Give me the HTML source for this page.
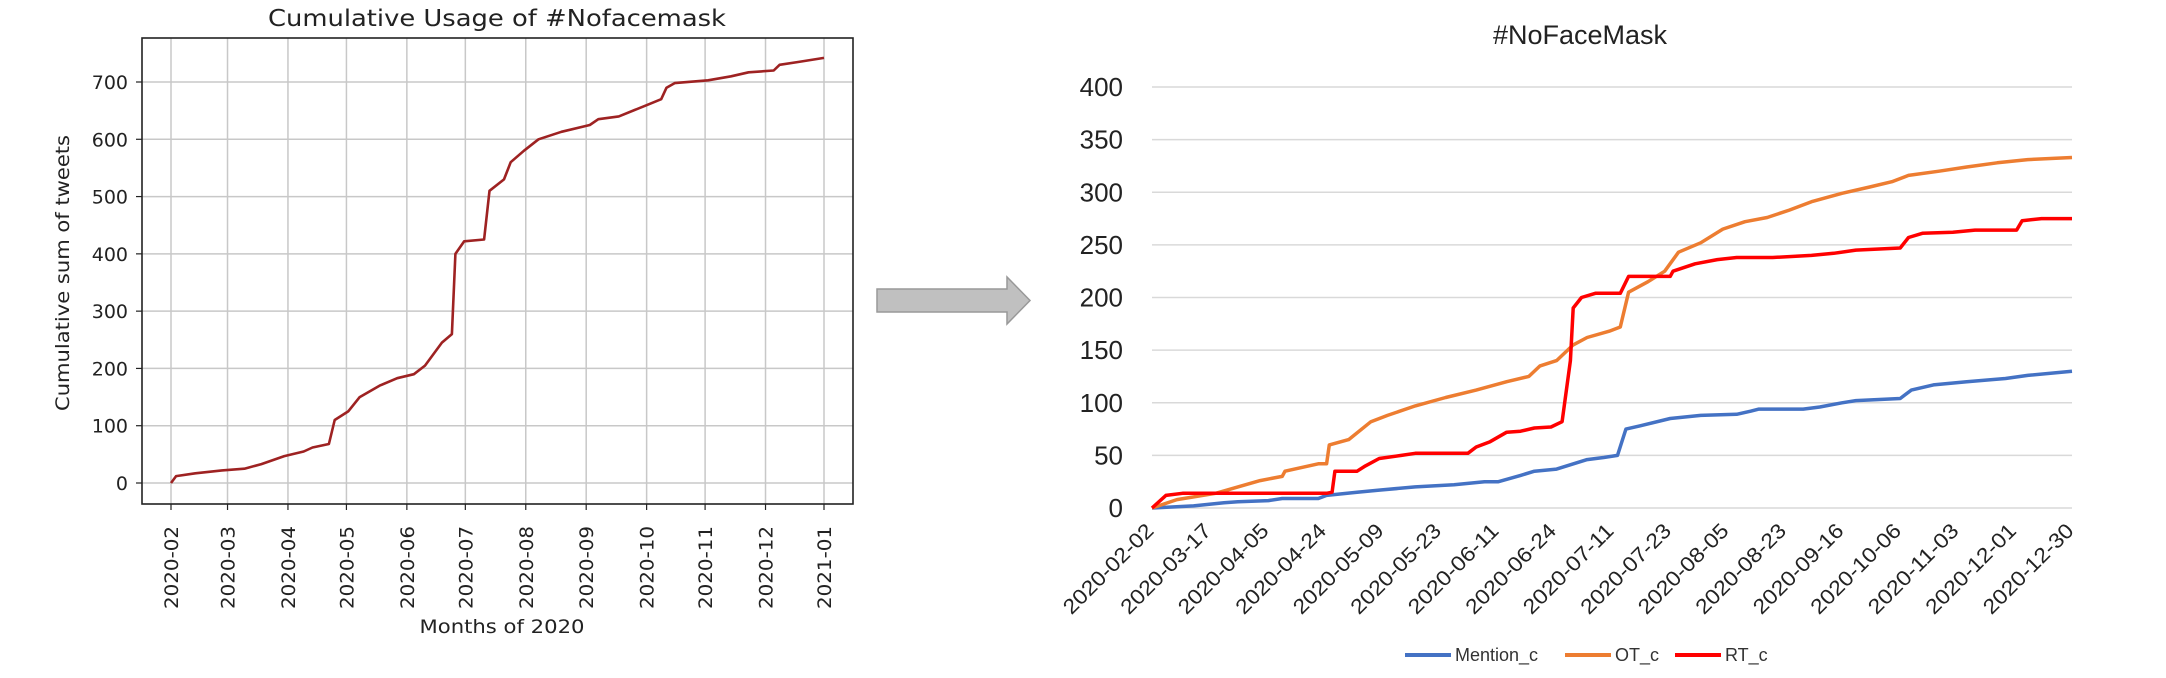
<!DOCTYPE html>
<html><head><meta charset="utf-8">
<style>
html,body{margin:0;padding:0;background:#fff;}
svg{display:block;}
</style></head>
<body>
<svg id="root" width="2166" height="678" xmlns="http://www.w3.org/2000/svg">
  <g id="left"></g>
  <polygon points="877,289 1007,289 1007,277 1030,300.5 1007,324 1007,312 877,312" fill="#c0c0c0" stroke="#999" stroke-width="1.5"/>
  <g id="right"></g>
</svg>
<script>
// ---------- LEFT CHART DATA ----------
const leftMonthLabels = ["2020-02","2020-03","2020-04","2020-05","2020-06","2020-07","2020-08","2020-09","2020-10","2020-11","2020-12","2021-01"];
const leftYTicks = [0,100,200,300,400,500,600,700];
const leftMonths = [0,0.09,0.43,0.9,1.28,1.56,1.94,2.27,2.42,2.7,2.8,3.03,3.22,3.55,3.84,4.12,4.31,4.6,4.77,4.83,4.98,5.31,5.4,5.64,5.75,5.97,6.21,6.59,7.06,7.2,7.54,8.01,8.25,8.34,8.48,9.05,9.43,9.72,10.14,10.24,10.57,11];
const leftValues = [0,12,17,22,25,33,47,55,62,68,110,125,150,170,183,190,205,245,260,400,422,425,510,530,560,580,600,613,625,635,640,660,670,690,698,703,710,717,720,730,735,742];

// ---------- RIGHT CHART DATA ----------
const rightTickLabels = ["2020-02-02","2020-03-17","2020-04-05","2020-04-24","2020-05-09","2020-05-23","2020-06-11","2020-06-24","2020-07-11","2020-07-23","2020-08-05","2020-08-23","2020-09-16","2020-10-06","2020-11-03","2020-12-01","2020-12-30"];
const rightYTicks = [0,50,100,150,200,250,300,350,400];
const otRows = [0,9,23,31,39,47,48,60,63,64,71,79,85,95,106,117,128,136,140,146,152,157,165,169,172,179,185,190,198,206,214,222,230,238,249,259,267,273,284,294,305,316,332];
const otValues = [0,8,14,20,26,30,35,42,42,60,65,82,88,97,105,112,120,125,135,140,155,162,168,172,205,215,225,243,252,265,272,276,283,291,299,305,310,316,320,324,328,331,333];
const rtRows = [0,5,11,26,63,65,66,74,77,82,90,95,114,117,122,128,133,138,144,148,151,152,155,160,169,172,181,187,188,196,204,211,224,238,246,254,270,273,278,289,297,312,314,321,332];
const rtValues = [0,12,14,14,14,15,35,35,40,47,50,52,52,58,63,72,73,76,77,82,140,190,200,204,204,220,220,220,225,232,236,238,238,240,242,245,247,257,261,262,264,264,273,275,275];
const mentionRows = [0,15,26,31,42,47,60,63,74,82,95,109,120,125,133,138,146,157,163,168,171,176,187,198,211,216,219,235,241,249,254,270,274,282,294,308,316,332];
const mentionValues = [0,2,5,6,7,9,9,12,15,17,20,22,25,25,31,35,37,46,48,50,75,78,85,88,89,92,94,94,96,100,102,104,112,117,120,123,126,130];
const rightMaxRow = 332;

const NS = "http://www.w3.org/2000/svg";
function mk(parent, tag, attrs, text) {
  const e = document.createElementNS(NS, tag);
  for (const k in attrs) e.setAttribute(k, attrs[k]);
  if (text !== undefined) e.textContent = text;
  parent.appendChild(e);
  return e;
}

// ---------- LEFT CHART ----------
(function(){
  const g = document.getElementById('left');
  const L = 142, R = 853, T = 38, B = 504;
  const monthStart = [0,29,60,90,121,151,182,213,244,274,305,335,366];
  const x0 = 171, x1 = 824;
  function xm(m){ const i = Math.min(Math.floor(m), 11); const f = m - i; const d = monthStart[i] + f*(monthStart[i+1]-monthStart[i]); return x0 + d*(x1-x0)/335; }
  function yv(v){ return 483 - v*(483-82)/700; }
  mk(g,'rect',{x:L,y:T,width:R-L,height:B-T,fill:'#fff'});
  leftYTicks.forEach(v=>{
    const l = mk(g,'line',{x1:L,x2:R,y1:yv(v),y2:yv(v),stroke:'#c8c8c8','stroke-width':1.5});
     
    mk(g,'line',{x1:L-6,x2:L,y1:yv(v),y2:yv(v),stroke:'#222','stroke-width':1.2});
    const t = mk(g,'text',{x:128,y:yv(v)+7,'text-anchor':'end','font-family':'DejaVu Sans, Liberation Sans, sans-serif','font-size':19,fill:'#222'},String(v));
     
  });
  leftMonthLabels.forEach((lab,i)=>{
    const x = xm(i);
    const l = mk(g,'line',{x1:x,x2:x,y1:T,y2:B,stroke:'#c8c8c8','stroke-width':1.5});
     
    mk(g,'line',{x1:x,x2:x,y1:B,y2:B+6,stroke:'#222','stroke-width':1.2});
    const t = mk(g,'text',{x:0,y:0,transform:`translate(${x+7},${526}) rotate(-90)`,'text-anchor':'end','font-family':'DejaVu Sans, Liberation Sans, sans-serif','font-size':19,fill:'#222',textLength:83,lengthAdjust:'spacingAndGlyphs'},lab);
     
  });
  mk(g,'rect',{x:L,y:T,width:R-L,height:B-T,fill:'none',stroke:'#222','stroke-width':1.6});
  const pts = leftMonths.map((m,i)=>xm(m).toFixed(1)+','+yv(leftValues[i]).toFixed(1)).join(' ');
  const p = mk(g,'polyline',{points:pts,fill:'none',stroke:'#9e2222','stroke-width':2.6,'stroke-linejoin':'round'});
   
  const tt = mk(g,'text',{x:497,y:26,'text-anchor':'middle','font-family':'DejaVu Sans, Liberation Sans, sans-serif','font-size':23,fill:'#222',textLength:458,lengthAdjust:'spacingAndGlyphs'},'Cumulative Usage of #Nofacemask');
   
  const yt = mk(g,'text',{x:0,y:0,transform:'translate(69,273) rotate(-90)','text-anchor':'middle','font-family':'DejaVu Sans, Liberation Sans, sans-serif','font-size':19,fill:'#222',textLength:276,lengthAdjust:'spacingAndGlyphs'},'Cumulative sum of tweets');
   
  const xt = mk(g,'text',{x:502,y:633,'text-anchor':'middle','font-family':'DejaVu Sans, Liberation Sans, sans-serif','font-size':19,fill:'#222',textLength:165,lengthAdjust:'spacingAndGlyphs'},'Months of 2020');
   
})();

// ---------- RIGHT CHART ----------
(function(){
  const g = document.getElementById('right');
  const L = 1152, R = 2072;
  function xr(r){ return L + r*(R-L)/rightMaxRow; }
  function yv(v){ return 508 - v*(508-87)/400; }
  const font = 'Liberation Sans Narrow, Liberation Sans, sans-serif';
  rightYTicks.forEach(v=>{
    const l = mk(g,'line',{x1:L,x2:R,y1:yv(v),y2:yv(v),stroke:'#d9d9d9','stroke-width':1.5});
     
    const t = mk(g,'text',{x:1123,y:yv(v)+9,'text-anchor':'end','font-family':font,'font-size':26,fill:'#222'},String(v));
     
  });
  const step = (2075-1155)/(rightTickLabels.length-1);
  rightTickLabels.forEach((lab,i)=>{
    const x = 1155 + i*step;
    const t = mk(g,'text',{x:0,y:0,transform:`translate(${x},${532}) rotate(-45)`,'text-anchor':'end','font-family':font,'font-size':21,fill:'#222',textLength:118,lengthAdjust:'spacingAndGlyphs'},lab);
     
  });
  function series(rows, vals, color, name){
    const pts = rows.map((r,i)=>xr(r).toFixed(1)+','+yv(vals[i]).toFixed(1)).join(' ');
    const p = mk(g,'polyline',{points:pts,fill:'none',stroke:color,'stroke-width':3.5,'stroke-linejoin':'round'});
     
  }
  series(mentionRows, mentionValues, '#4472c4', 'mention-c-line');
  series(otRows, otValues, '#ed7d31', 'ot-c-line');
  series(rtRows, rtValues, '#ff0000', 'rt-c-line');
  const tt = mk(g,'text',{x:1580,y:44,'text-anchor':'middle','font-family':font,'font-size':27,fill:'#222'},'#NoFaceMask');
   
  const legend = [['Mention_c','#4472c4',1405],['OT_c','#ed7d31',1565],['RT_c','#ff0000',1675]];
  legend.forEach(([lab,c,x])=>{
    const e = mk(g,'g',{});
     
    mk(e,'line',{x1:x,x2:x+46,y1:655,y2:655,stroke:c,'stroke-width':4});
    mk(e,'text',{x:x+50,y:661,'font-family':font,'font-size':18,fill:'#333'},lab);
  });
})();
</script>
</body></html>
